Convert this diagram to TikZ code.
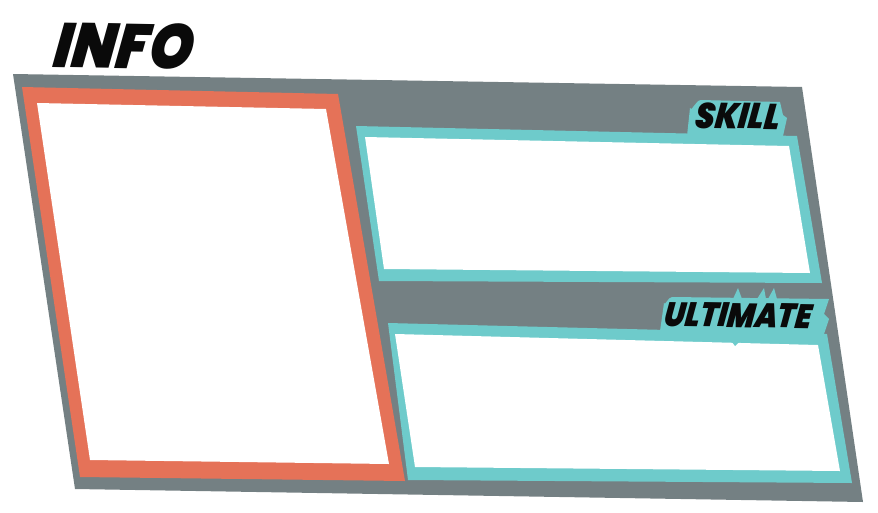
\documentclass[tikz,border=0pt]{standalone}
\usepackage{fontspec}
\usepackage{xcolor}
\usepackage{tikz}
\IfFontExistsTF{Poppins Black Italic}
  {\newfontfamily\heavyfont{Poppins Black Italic}[FakeStretch=0.9, FakeSlant=0.1]
   \newfontfamily\tabfont{Poppins Black Italic}[FakeStretch=0.86, FakeSlant=0.1]}
  {\newfontfamily\heavyfont{Liberation Sans}[UprightFont=* Bold Italic]
   \newfontfamily\tabfont{Liberation Sans}[UprightFont=* Bold Italic]}
\definecolor{panel}{HTML}{748083}
\definecolor{portrait}{HTML}{E57258}
\definecolor{accent}{HTML}{6ECBCB}
\definecolor{ink}{HTML}{0A0A0A}
\tikzset{
  slab/.style={fill=panel, draw=none},
  frameo/.style={fill=portrait, draw=none},
  framec/.style={fill=accent, draw=none},
  hole/.style={fill=white, draw=none},
  title/.style={text=ink, inner sep=0pt, anchor=base west, rotate=-1},
}

\begin{document}
\begin{tikzpicture}[x=1pt, y=-1pt]
  \useasboundingbox (0,0) rectangle (878,512);

  % grey card
  \draw[slab] (13,74) -- (802,87) -- (863,502) -- (75,489) -- cycle;

  % portrait frame
  \draw[frameo] (22,87) -- (338,94) -- (405,481) -- (80,477) -- cycle;
  \draw[hole] (37,103) -- (326,109) -- (389,464) -- (90,460) -- cycle;

  % skill box and its tab
  \draw[framec] (356,126) -- (797,136) -- (822,283) -- (379,281) -- cycle;
  \draw[framec] (687,136) -- (690,108) to[out=-80,in=180] (701,100)
    -- (780,102) -- (783,115) -- (787,118) -- (783,136) -- cycle;
  \draw[hole] (365,137) -- (789,146) -- (810,273) -- (384,269) -- cycle;

  % ultimate box and its tab
  \draw[framec] (388,323) -- (827,334) -- (852,483) -- (408,480) -- cycle;
  \draw[framec] (660,331) -- (664,303) to[out=-80,in=180] (672,297)
    -- (829,299) -- (824,314) -- (829,319) -- (823,337) -- cycle;
  \foreach \a/\b/\c in {733/738/742, 757/764/766, 768/774/777}
    \draw[framec] (\a,299) -- (\b,288) -- (\c,299) -- cycle;
  \draw[hole] (395,334) -- (818,345) -- (840,471) -- (415,467) -- cycle;
  \draw[framec] (732,342) -- (735,346) -- (739,342) -- cycle;

  % headings
  \node[title, font=\heavyfont\fontsize{63}{63}\selectfont] (info) at (52,67) {INFO};
  \node[title, font=\tabfont\fontsize{36}{36}\selectfont] (skill) at (694,128) {SKILL};
  \node[title, font=\tabfont\fontsize{34}{34}\selectfont] (ult) at (663,326) {ULTIMATE};
\end{tikzpicture}
\end{document}
